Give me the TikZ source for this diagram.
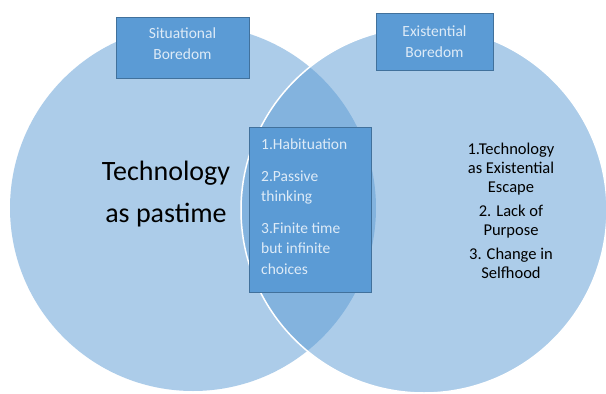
\documentclass[tikz,border=0pt]{standalone}
\usepackage{fontspec}
\setmainfont{Carlito}
\begin{document}
\begin{tikzpicture}[x=1pt,y=-1pt,
  venn/.style={circle, inner sep=0pt, minimum size=366pt, fill=vennblue, fill opacity=0.5},
  labelbox/.style={draw=boxedge, line width=0.8pt, fill=boxblue, text=boxtext, font=\fontsize{15.5}{21}\selectfont, align=center, inner sep=0pt},
]
\definecolor{vennblue}{RGB}{91,155,213}
\definecolor{boxblue}{RGB}{91,155,213}
\definecolor{boxedge}{RGB}{65,113,156}
\definecolor{boxtext}{RGB}{222,235,247}
\useasboundingbox (0,0) rectangle (606,394);
\fill[white] (0,0) rectangle (606,394);

% the two overlapping sets
\node[venn] (left) at (193,208) {};
\node[venn, draw=white, draw opacity=1, line width=1.5pt] (right) at (424,210) {};

% set titles
\node[labelbox, minimum width=133pt, minimum height=61pt] (sit) at (182.5,47.5) {};
\node[text=boxtext, font=\fontsize{15.5}{21}\selectfont, align=center, inner sep=0pt] (sittext) at (182.5,44) {Situational\\Boredom};
\node[labelbox, minimum width=117pt, minimum height=57pt] (exi) at (434.5,41.5) {Existential\\Boredom};

% shared causes in the overlap
\node[labelbox, minimum width=122pt, minimum height=165pt] (mid) at (310,209.5) {};
\node[anchor=north west, text=boxtext, font=\fontsize{15.5}{20}\selectfont, align=left, inner sep=0pt] (midtext) at (261,139)
  {1.Habituation\\[12pt]2.Passive\\thinking\\[12pt]3.Finite time\\but infinite\\[1pt]choices};

% left-only text
\node[font=\fontsize{28}{42}\selectfont, align=center, inner sep=0pt] (past) at (166,194) {Technology\\as pastime};

% right-only text
\node[font=\fontsize{16.5}{19}\selectfont, align=center, inner sep=0pt] (exitext) at (511,211)
  {1.Technology\\as Existential\\Escape\\[5pt]2. Lack of\\Purpose\\[5pt]3. Change in\\Selfhood};
\end{tikzpicture}
\end{document}
